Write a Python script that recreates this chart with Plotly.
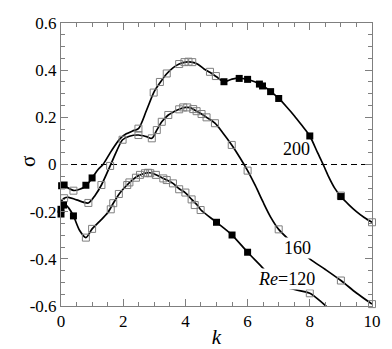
import plotly.graph_objects as go

# smooth curves (k, sigma) for each Re
k_200 = [0.0, 0.1, 0.2, 0.4, 0.6, 0.8, 1.0, 1.2, 1.35, 1.63, 1.9, 2.1, 2.3, 2.49, 2.75, 3.0, 3.2, 3.4, 3.6, 3.8,
         4.0, 4.2, 4.4, 4.6, 4.8, 5.0, 5.24, 5.5, 5.73, 6.0, 6.25, 6.5, 6.75, 7.0, 7.25, 7.5, 7.75, 8.0, 8.25,
         8.43, 8.6, 8.8, 9.0, 9.25, 9.5, 9.75, 10.0]
s_200 = [-0.09, -0.088, -0.097, -0.11, -0.105, -0.09, -0.057, -0.02, 0.0, 0.06, 0.11, 0.13, 0.142, 0.152, 0.23,
         0.31, 0.35, 0.385, 0.41, 0.426, 0.434, 0.434, 0.425, 0.405, 0.39, 0.372, 0.351, 0.362, 0.366, 0.36,
         0.35, 0.333, 0.309, 0.28, 0.245, 0.207, 0.165, 0.121, 0.05, 0.0, -0.05, -0.1, -0.136, -0.17, -0.2,
         -0.225, -0.245]

k_160 = [0.0, 0.1, 0.24, 0.5, 0.88, 1.1, 1.3, 1.58, 1.8, 1.98, 2.2, 2.49, 2.75, 2.92, 3.08, 3.24, 3.45, 3.6,
         3.8, 4.0, 4.15, 4.36, 4.52, 4.68, 4.95, 5.2, 5.49, 5.75, 6.0, 6.25, 6.5, 6.75, 7.0, 7.5, 8.0, 8.5,
         9.0, 9.5, 10.0]
s_160 = [-0.157, -0.143, -0.139, -0.15, -0.163, -0.13, -0.087, -0.006, 0.06, 0.105, 0.12, 0.125, 0.118, 0.111,
         0.146, 0.181, 0.21, 0.222, 0.234, 0.242, 0.241, 0.226, 0.214, 0.2, 0.175, 0.135, 0.083, 0.03, -0.026,
         -0.09, -0.16, -0.225, -0.275, -0.34, -0.4, -0.445, -0.492, -0.545, -0.592]

k_120 = [0.0, 0.13, 0.25, 0.4, 0.6, 0.8, 1.0, 1.25, 1.5, 1.7, 1.9, 2.1, 2.3, 2.5, 2.7, 2.85, 3.0, 3.2, 3.4,
         3.6, 3.8, 4.0, 4.2, 4.4, 4.5, 5.0, 5.5, 6.0, 6.5, 7.0, 7.4, 8.0, 8.3, 8.6]
s_120 = [-0.195, -0.17, -0.185, -0.218, -0.28, -0.31, -0.273, -0.24, -0.205, -0.16, -0.12, -0.09, -0.065,
         -0.047, -0.037, -0.035, -0.04, -0.053, -0.066, -0.08, -0.103, -0.12, -0.148, -0.175, -0.193, -0.245,
         -0.299, -0.372, -0.44, -0.512, -0.527, -0.546, -0.575, -0.61]

# data points: filled and open squares
k_200_fill = [0.02, 0.1, 0.8, 1.0, 5.24, 5.73, 6.0, 6.38, 6.48, 6.74, 7.0, 8.0, 9.0]
s_200_fill = [-0.09, -0.087, -0.088, -0.057, 0.351, 0.365, 0.361, 0.341, 0.333, 0.309, 0.28, 0.121, -0.136]
k_200_open = [0.4, 2.49, 2.98, 3.18, 3.4, 3.8, 3.97, 4.1, 4.22, 4.79, 4.98, 9.0, 10.0]
s_200_open = [-0.111, 0.152, 0.305, 0.35, 0.386, 0.426, 0.434, 0.436, 0.434, 0.393, 0.375, -0.132, -0.245]

k_160_open = [0.1, 0.88, 1.3, 1.58, 1.98, 2.49, 2.92, 3.08, 3.24, 3.45, 3.8, 3.93, 4.06, 4.25, 4.36, 4.52,
              4.68, 4.95, 5.49, 6.0, 7.0, 9.0, 10.0]
s_160_open = [-0.143, -0.163, -0.087, -0.006, 0.105, 0.125, 0.111, 0.146, 0.181, 0.21, 0.234, 0.242, 0.242,
              0.235, 0.226, 0.214, 0.2, 0.175, 0.083, -0.026, -0.275, -0.492, -0.592]

k_120_fill = [0.0, 0.0, 0.08, 0.4, 5.0, 5.5, 6.0]
s_120_fill = [-0.21, -0.19, -0.172, -0.218, -0.245, -0.299, -0.372]
k_120_open = [0.8, 1.0, 1.6, 1.68, 1.86, 2.13, 2.2, 2.41, 2.54, 2.7, 2.8, 2.87, 3.05, 3.29, 3.4, 3.6, 3.8,
              4.0, 4.2, 4.3, 4.49, 8.0]
s_120_open = [-0.31, -0.273, -0.19, -0.164, -0.125, -0.087, -0.076, -0.056, -0.044, -0.037, -0.035, -0.037,
              -0.044, -0.059, -0.066, -0.08, -0.105, -0.119, -0.148, -0.172, -0.193, -0.546]

y_ticks = [-0.6, -0.4, -0.2, 0, 0.2, 0.4, 0.6]
y_ticktext = ['-0.6', '-0.4', '-0.2', '0', '0.2', '0.4', '0.6']

GRAY = '#7f7f7f'
SERIF = 'Liberation Serif, Times New Roman, serif'
fig = go.Figure()

# zero line
fig.add_trace(go.Scatter(x=[0, 10], y=[0, 0], mode='lines',
                         line=dict(color='black', width=1, dash='6px,4px')))

for kx, sy in [(k_200, s_200), (k_160, s_160), (k_120, s_120)]:
    fig.add_trace(go.Scatter(x=kx, y=sy, mode='lines',
                             line=dict(color='black', width=1.7, shape='spline', smoothing=0.8)))

for kx, sy in [(k_200_open, s_200_open), (k_160_open, s_160_open), (k_120_open, s_120_open)]:
    fig.add_trace(go.Scatter(x=kx, y=sy, mode='markers', cliponaxis=False,
                             marker=dict(symbol='square-open', size=7, color=GRAY, line=dict(width=1, color=GRAY))))

for kx, sy in [(k_200_fill, s_200_fill), (k_120_fill, s_120_fill)]:
    fig.add_trace(go.Scatter(x=kx, y=sy, mode='markers', cliponaxis=False,
                             marker=dict(symbol='square', size=7, color='black')))

lab_font = dict(family=SERIF, size=18, color='black')
fig.add_annotation(x=7.56, y=0.064, text='200', showarrow=False, font=lab_font)
fig.add_annotation(x=7.62, y=-0.352, text='160', showarrow=False, font=lab_font,
                   bgcolor='white', borderpad=0)
fig.add_annotation(x=7.26, y=-0.485, text='<i>Re</i>=120', showarrow=False, font=lab_font,
                   bgcolor='white', borderpad=0)

# y axis title (sigma), placed as rotated text left of the tick labels
fig.add_annotation(xref='paper', yref='paper', x=-0.151, y=0.509, text='σ', textangle=-90,
                   showarrow=False, font=dict(family=SERIF, size=21, color='black'))

axis_common = dict(showline=True, linecolor=GRAY, linewidth=1, mirror='allticks', ticks='inside',
                   ticklen=7, tickcolor=GRAY, showgrid=False, zeroline=False, automargin=False,
                   tickfont=dict(family=SERIF, size=17, color='black'))

fig.update_xaxes(range=[0, 10], dtick=2, tick0=0,
                 minor=dict(dtick=0.5, ticklen=4, tickcolor=GRAY, ticks='inside'),
                 title=dict(text='<i>k</i>', font=dict(family=SERIF, size=21, color='black'), standoff=0),
                 **axis_common)
fig.update_yaxes(range=[-0.6, 0.6], tickvals=y_ticks, ticktext=y_ticktext,
                 minor=dict(dtick=0.05, tick0=0, ticklen=4, tickcolor=GRAY, ticks='inside'),
                 **axis_common)

# page body adds an 8px offset, so the figure is 8px smaller and margins shifted
fig.update_layout(width=384, height=341, margin=dict(l=53, r=20, t=15, b=43),
                  plot_bgcolor='white', paper_bgcolor='white', showlegend=False)

fig.write_html("out.html")
